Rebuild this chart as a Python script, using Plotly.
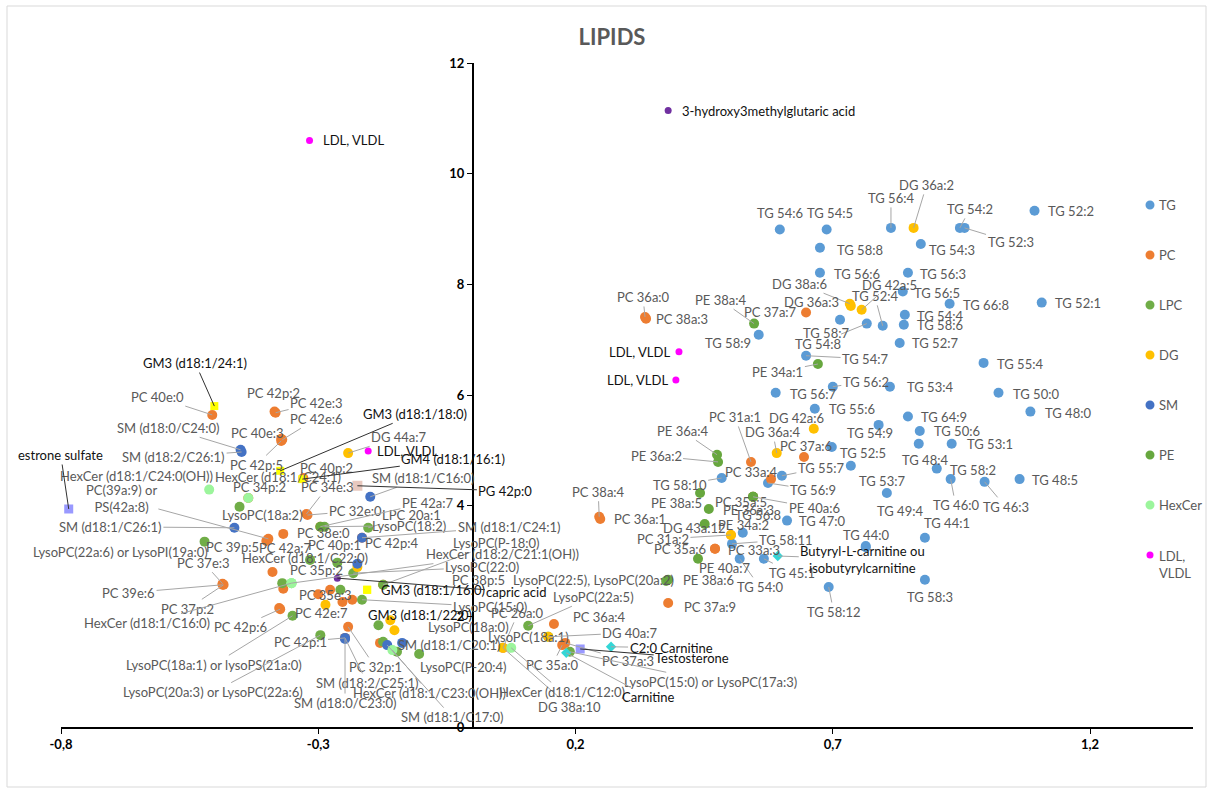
import plotly.graph_objects as go

# ------------------------------------------------------------------ data
tg_names = ["TG 54:6", "TG 54:5", "TG 56:4", "TG 54:2", "TG 52:3", "TG 52:2", "TG 58:8", "TG 54:3",
            "TG 56:6", "TG 56:3", "TG 56:5", "TG 66:8", "TG 52:1", "TG 54:4", "TG 58:6", "TG 52:4",
            "TG 54:8", "TG 58:7", "TG 52:7", "TG 54:7", "TG 58:9", "TG 56:7", "TG 56:2", "TG 53:4",
            "TG 55:6", "TG 54:9", "TG 64:9", "TG 50:6", "TG 55:4", "TG 50:0", "TG 48:0", "TG 53:1",
            "TG 48:4", "TG 58:2", "TG 46:0", "TG 46:3", "TG 48:5", "TG 52:5", "", "TG 53:7",
            "TG 49:4", "TG 44:0", "TG 44:1", "TG 58:3", "TG 58:12", "TG 47:0", "TG 58:10", "TG 55:7",
            "TG 56:9", "TG 56:8", "TG 58:11", "TG 54:0", "TG 45:1"]
tg_x = [0.597, 0.688, 0.813, 0.947, 0.956, 1.092, 0.675, 0.871,
        0.675, 0.846, 0.836, 0.927, 1.106, 0.840, 0.838, 0.797,
        0.766, 0.714, 0.830, 0.648, 0.556, 0.589, 0.700, 0.811,
        0.665, 0.789, 0.846, 0.869, 0.993, 1.022, 1.084, 0.931,
        0.867, 0.902, 0.929, 0.995, 1.063, 0.698, 0.735, 0.805,
        0.764, 0.764, 0.879, 0.879, 0.692, 0.611, 0.484, 0.601,
        0.574, 0.525, 0.504, 0.519, 0.566]
tg_y = [8.99, 8.99, 9.02, 9.02, 9.02, 9.33, 8.66, 8.73,
        8.21, 8.21, 7.87, 7.65, 7.67, 7.45, 7.27, 7.25,
        7.29, 7.36, 6.94, 6.71, 7.09, 6.04, 6.15, 6.15,
        5.75, 5.46, 5.61, 5.35, 6.58, 6.04, 5.70, 5.12,
        5.12, 4.67, 4.48, 4.43, 4.48, 5.06, 4.72, 4.23,
        3.27, 3.25, 3.42, 2.66, 2.53, 3.73, 4.50, 4.54,
        4.41, 3.51, 3.31, 3.04, 3.04]

pc_names = ["PC 36a:0", "PC 38a:3", "PC 37a:7", "PC 31a:1", "PC 37a:6", "PC 33a:4", "PC 38a:4", "PC 36a:1",
            "PC 35a:6", "PC 33a:3", "PC 35a:5", "PC 31a:2", "PC 37a:9", "PC 36a:4", "PC 37a:3", "PC 35a:0",
            "PC 26a:0", "PC 40e:0", "PC 42p:2", "PC 42e:3", "PC 40e:3", "PC 42e:6", "PC 42p:5", "PC 40p:2",
            "PC 34e:3", "PC 32e:0", "PC 38e:0", "PC 42a:7", "PC 39p:5", "PC(39a:9) or<br>PS(42a:8)", "PC 40p:1", "PC 42p:4",
            "PC 37e:3", "PC 39e:6", "PC 37p:2", "PC 35p:2", "PC 35e:3", "PC 42e:7", "PC 42p:6", "PC 42p:1",
            "PC 32p:1", "PC 38p:5", "PC 34p:2", "", "", "", "", ""]
pc_x = [0.335, 0.337, 0.648, 0.541, 0.644, 0.580, 0.246, 0.248,
        0.471, 0.471, 0.545, 0.502, 0.380, 0.158, 0.180, 0.174,
        0.059, -0.506, -0.385, -0.383, -0.372, -0.370, -0.372, -0.329,
        -0.323, -0.321, -0.368, -0.399, -0.401, -0.397, -0.296, -0.215,
        -0.486, -0.486, -0.484, -0.389, -0.368, -0.376, -0.374, -0.248,
        -0.242, -0.174, -0.436, -0.253, -0.234, -0.180, -0.277, -0.300]
pc_y = [7.41, 7.38, 7.49, 4.79, 4.88, 4.48, 3.80, 3.76,
        3.22, 3.22, 4.16, 3.47, 2.24, 1.86, 1.52, 1.48,
        1.43, 5.64, 5.70, 5.68, 5.21, 5.19, 5.17, 4.50,
        3.85, 3.83, 3.49, 3.38, 3.36, 3.40, 3.62, 3.42,
        2.59, 2.57, 2.57, 2.80, 2.50, 2.15, 2.13, 1.61,
        1.81, 2.57, 4.14, 2.26, 2.30, 1.52, 2.48, 2.40]

lpc_names = ["LysoPC(22a:6) or LysoPI(19a:0)", "LysoPC(18a:2)", "LPC 20a:1", "LysoPC(18:2)", "LysoPC(P-18:0)",
             "LysoPC(22:0)", "LysoPC(22:5), LysoPC(20a:2)", "LysoPC(22a:5)", "LysoPC(18a:1)",
             "LysoPC(15:0) or LysoPC(17a:3)", "LysoPC(P-20:4)", "LysoPC(18a:1) or lysoPS(21a:0)",
             "LysoPC(20a:3) or LysoPC(22a:6)", "LysoPC(15:0)", "LysoPC(18a:0)", "", "", "", "", "", ""]
lpc_x = [-0.521, -0.453, -0.203, -0.288, -0.174, -0.232, 0.376, 0.108, 0.147, 0.189, -0.104,
         -0.350, -0.296, -0.215, -0.183, -0.263, -0.370, -0.147, -0.174, -0.257, -0.316]
lpc_y = [3.35, 3.98, 3.60, 3.62, 2.57, 2.78, 2.64, 1.83, 1.63, 1.36, 1.32,
         2.01, 1.66, 2.30, 1.84, 2.97, 2.60, 1.36, 1.54, 2.48, 3.02]

dg_names = ["DG 36a:2", "DG 38a:6", "DG 36a:3", "DG 42a:5", "DG 42a:6", "DG 36a:4", "DG 43a:12",
            "DG 44a:7", "DG 40a:7", "DG 38a:10", "", "", "", ""]
dg_x = [0.857, 0.733, 0.735, 0.756, 0.663, 0.591, 0.502, -0.242, 0.147, 0.059, -0.224, -0.286, -0.160, -0.152]
dg_y = [9.02, 7.65, 7.61, 7.54, 5.39, 4.95, 3.47, 4.95, 1.63, 1.43, 2.89, 2.21, 1.93, 1.75]

sm_names = ["SM (d18:0/C24:0)", "SM (d18:2/C26:1)", "SM (d18:1/C26:1)", "SM (d18:1/C16:0)", "SM (d18:1/C24:1)",
            "SM (d18:2/C25:1)", "SM (d18:0/C23:0)", "SM (d18:1/C17:0)", "SM (d18:1/C20:1)", ""]
sm_x = [-0.451, -0.449, -0.463, -0.199, -0.215, -0.248, -0.248, -0.166, -0.137, -0.224]
sm_y = [5.01, 4.97, 3.60, 4.16, 3.42, 1.61, 1.59, 1.48, 1.52, 2.95]

pe_names = ["PE 38a:4", "PE 34a:1", "PE 36a:4", "PE 36a:2", "PE 38a:5", "PE 40a:6", "PE 36a:3", "PE 34a:2",
            "PE 40a:7", "PE 38a:6", "PE 42a:7", ""]
pe_x = [0.547, 0.671, 0.475, 0.477, 0.459, 0.545, 0.545, 0.451, 0.438, 0.380, -0.296, 0.442]
pe_y = [7.29, 6.56, 4.92, 4.79, 3.94, 4.16, 4.16, 3.67, 3.04, 2.66, 3.62, 4.23]

hex_names = ["HexCer (d18:1/C24:0(OH))", "HexCer (d18:1/C24:1)", "HexCer (d18:1/C22:0)", "HexCer (d18:1/C16:0)",
             "HexCer (d18:1/C12:0)", "HexCer (d18:2/C21:1(OH))", "HexCer (d18:1/C23:0(OH))"]
hex_x = [-0.512, -0.436, -0.352, -0.352, 0.075, -0.352, -0.156]
hex_y = [4.29, 4.14, 2.60, 2.60, 1.43, 2.60, 1.39]

ldl_names = ["LDL, VLDL", "LDL, VLDL", "LDL, VLDL", "LDL, VLDL"]
ldl_x = [-0.317, 0.401, 0.395, -0.203]
ldl_y = [10.60, 6.78, 6.27, 4.99]

gm_names = ["GM3 (d18:1/24:1)", "GM3 (d18:1/18:0)", "GM4 (d18:1/16:1)", "GM3 (d18:1/16:0)", "GM3 (d18:1/22:0)"]
gm_x = [-0.502, -0.374, -0.331, -0.205, -0.205]
gm_y = [5.80, 4.63, 4.48, 2.48, 2.48]

acid_names = ["3-hydroxy3methylglutaric acid", "capric acid"]
acid_x = [0.380, -0.263]
acid_y = [11.14, 2.69]

ster_names = ["estrone sulfate", "Testosterone"]
ster_x = [-0.785, 0.209]
ster_y = [3.94, 1.41]

pg_names = ["PG 42p:0"]
pg_x = [-0.224]
pg_y = [4.36]

carn_names = ["Carnitine", "C2:0 Carnitine", "Butyryl-L-carnitine ou<br>isobutyrylcarnitine"]
carn_x = [0.182, 0.269, 0.593]
carn_y = [1.34, 1.45, 3.09]

x_ticks = [-0.8, -0.3, 0.2, 0.7, 1.2]
x_ticktext = ["-0,8", "-0,3", "0,2", "0,7", "1,2"]
y_ticks = [0, 2, 4, 6, 8, 10, 12]

legend_labels = ["TG", "PC", "LPC", "DG", "SM", "PE", "HexCer", "LDL,<br>VLDL"]

# ------------------------------------------------------------------ label placement (pixel offsets dx, dy, leader line)
tg_lab = [(0, -17, 0), (3, -17, 0), (0, -30, 1), (10, -19, 1), (46, 14, 1), (36, 0, 0), (40, 2, 0), (31, 6, 0),
          (37, 1, 0), (35, 1, 0), (34, 1, 0), (36, 1, 0), (36, 0, 0), (35, 1, 0), (36, 0, 0), (-8, -30, 1),
          (-49, 20, 1), (-14, 13, 0), (35, 0, 0), (59, 3, 1), (-31, 8, 0), (37, 1, 0), (33, -5, 1), (40, 0, 0),
          (37, 0, 0), (-9, 8, 0), (36, 0, 0), (37, 0, 0), (36, 1, 0), (37, 1, 0), (38, 1, 0), (38, 0, 0),
          (6, 16, 0), (36, 1, 0), (5, 26, 1), (21, 25, 1), (35, 1, 0), (31, 6, 0), None, (-5, -12, 0),
          (34, -35, 0), (0, -12, 0), (22, -15, 0), (5, 17, 0), (5, 25, 1), (35, 0, 0), (-42, 7, 1), (39, -8, 1),
          (45, 7, 1), (15, -18, 0), (54, -4, 1), (20, 28, 1), (28, 14, 1)]
pc_lab = [(-2, -20, 1), (36, 0, 0), (-36, -1, 0), (-16, -45, 1), (2, -11, 0), (-20, -7, 0), (-1, -25, 1), (40, 0, 0),
          (-35, 0, 0), (39, 1, 0), (-12, 5, 0), (-68, 4, 1), (42, 4, 0), (46, -7, 0), (63, 18, 1), (-10, 20, 1),
          (15, -35, 1), (-55, -18, 1), (-1, -19, 0), (41, -10, 1), (-24, -6, 0), (34, -21, 1), (-25, 24, 1), (23, -10, 0),
          (21, -27, 1), (48, -4, 1), (40, -1, 0), (18, 8, 0), (-34, 6, 0), (-147, -40, 1), (14, 18, 0), (29, 5, 0),
          (-19, -21, 1), (-94, 8, 1), (-36, 24, 1), (44, -2, 0), (42, 6, 0), (42, 5, 0), (-40, 18, 1), (-45, 4, 1),
          (27, 40, 1), (95, -5, 0), (11, -11, 0), None, None, None, None, None]
lpc_lab = [(-84, 10, 0), (23, 8, 0), (43, -13, 1), (85, -1, 1), (113, -42, 1), (129, -6, 1), (-73, -1, 0),
           (65, -29, 1), (-20, 0, 0), (141, 30, 1), (44, 13, 0), (-79, 49, 1), (-107, 57, 1), (128, 7, 1),
           (90, 2, 0), None, None, None, None, None, None]
dg_lab = [(13, -43, 1), (-50, -20, 1), (-39, -4, 0), (28, -25, 1), (-17, -11, 0), (-4, -21, 1), (-36, -7, 0),
          (51, -16, 1), (82, -4, 1), (67, 59, 1), None, None, None, None]
sm_lab = [(-72, -22, 1), (-68, 5, 1), (-124, -1, 1), (53, -19, 1), (147, -11, 1), (22, 45, 1), (0, 64, 1),
          (65, 72, 1), (47, 2, 0), None]
pe_lab = [(-34, -24, 1), (-40, 8, 1), (-35, -24, 1), (-62, -6, 1), (-32, -6, 0), (61, 11, 1), (-5, 13, 0),
          (39, 1, 0), (26, 9, 0), (40, 0, 0), (107, -24, 1), None]
hex_lab = [(-73, -14, 0), (30, -21, 0), (13, -25, 0), (-145, 40, 1), (51, 44, 1), (211, -29, 1), (37, 43, 1)]
ldl_lab = [(44, 0, 0), (-39, 0, 0), (-38, 0, 0), (39, 0, 0)]
gm_lab = [(-19, -43, 1), (135, -57, 1), (151, -20, 1), (66, 0, 0), (53, 25, 0)]
acid_lab = [(100, 0, 0), (179, 14, 1)]
ster_lab = [(-8, -54, 1), (112, 9, 1)]
pg_lab = [(148, 5, 1)]
carn_lab = [(82, 44, 1), (60, 1, 1), (85, 3, 1)]

GRAY_TXT = "#595959"
BLACK_TXT = "#111111"
GRAY_LINE = "#A6A6A6"
BLACK_LINE = "#303030"

groups = [
    dict(names=tg_names, x=tg_x, y=tg_y, lab=tg_lab, color="#5B9BD5", symbol="circle", size=10, tc=GRAY_TXT, lc=GRAY_LINE),
    dict(names=pc_names, x=pc_x, y=pc_y, lab=pc_lab, color="#ED7D31", symbol="circle", size=10, tc=GRAY_TXT, lc=GRAY_LINE),
    dict(names=lpc_names, x=lpc_x, y=lpc_y, lab=lpc_lab, color="#70AD47", symbol="circle", size=10, tc=GRAY_TXT, lc=GRAY_LINE),
    dict(names=dg_names, x=dg_x, y=dg_y, lab=dg_lab, color="#FFC000", symbol="circle", size=10, tc=GRAY_TXT, lc=GRAY_LINE),
    dict(names=sm_names, x=sm_x, y=sm_y, lab=sm_lab, color="#4472C4", symbol="circle", size=10, tc=GRAY_TXT, lc=GRAY_LINE),
    dict(names=pe_names, x=pe_x, y=pe_y, lab=pe_lab, color="#67A73E", symbol="circle", size=10, tc=GRAY_TXT, lc=GRAY_LINE),
    dict(names=hex_names, x=hex_x, y=hex_y, lab=hex_lab, color="#9CF59C", symbol="circle", size=10, tc=GRAY_TXT, lc=GRAY_LINE),
    dict(names=ldl_names, x=ldl_x, y=ldl_y, lab=ldl_lab, color="#FF00FF", symbol="circle", size=7, tc=BLACK_TXT, lc=BLACK_LINE),
    dict(names=gm_names, x=gm_x, y=gm_y, lab=gm_lab, color="#FFFF00", symbol="square", size=8, tc=BLACK_TXT, lc=BLACK_LINE),
    dict(names=acid_names, x=acid_x, y=acid_y, lab=acid_lab, color="#7030A0", symbol="circle", size=7, tc=BLACK_TXT, lc=BLACK_LINE),
    dict(names=ster_names, x=ster_x, y=ster_y, lab=ster_lab, color="#9999FF", symbol="square", size=9, tc=BLACK_TXT, lc=BLACK_LINE),
    dict(names=pg_names, x=pg_x, y=pg_y, lab=pg_lab, color="#E8C8BE", symbol="square", size=10, tc=BLACK_TXT, lc=BLACK_LINE),
    dict(names=carn_names, x=carn_x, y=carn_y, lab=carn_lab, color="#33D6D6", symbol="diamond", size=8, tc=BLACK_TXT, lc=GRAY_LINE),
]
legend_colors = ["#5B9BD5", "#ED7D31", "#70AD47", "#FFC000", "#4472C4", "#67A73E", "#9CF59C", "#FF00FF"]
legend_sizes = [9, 9, 9, 9, 9, 9, 9, 7]

# ------------------------------------------------------------------ figure
W, H = 1213, 794
ML, MR, MT, MB = 61, 20, 63, 67
PW, PH = W - ML - MR, H - MT - MB
XR = [-0.8, 1.4]
YR = [0, 12]
FONT = "Lato, 'Open Sans', sans-serif"


def px2paper_x(px):
    return (px - ML) / PW


def px2paper_y(py):
    return (H - MB - py) / PH


fig = go.Figure()
annotations = []
for g in groups:
    fig.add_trace(go.Scatter(
        x=g["x"], y=g["y"], mode="markers",
        marker=dict(color=g["color"], size=g["size"], symbol=g["symbol"], line=dict(width=0)),
        text=[n.replace("<br>", " ") for n in g["names"]], hoverinfo="text", showlegend=False))
    for n, xv, yv, lab in zip(g["names"], g["x"], g["y"], g["lab"]):
        if not n or lab is None:
            continue
        dx, dy, lead = lab
        annotations.append(dict(
            x=xv, y=yv, xref="x", yref="y", text=n, showarrow=True, ax=dx, ay=dy,
            arrowhead=0, arrowwidth=1, standoff=0, startstandoff=0,
            arrowcolor=g["lc"] if lead else "rgba(0,0,0,0)",
            font=dict(family=FONT, size=13, color=g["tc"])))

# manual legend (Excel-like spacing)
for i, (lab, col, sz) in enumerate(zip(legend_labels, legend_colors, legend_sizes)):
    py = 205 + 50 * i
    fig.add_shape(type="circle", xref="paper", yref="paper", xsizemode="pixel", ysizemode="pixel",
                  xanchor=px2paper_x(1150), yanchor=px2paper_y(py),
                  x0=-sz / 2, x1=sz / 2, y0=-sz / 2, y1=sz / 2, fillcolor=col, line=dict(width=0))
    annotations.append(dict(
        xref="paper", yref="paper", x=px2paper_x(1157), y=px2paper_y(py - 9 if "<br>" in lab else py),
        text=lab, showarrow=False, xanchor="left", yanchor="top" if "<br>" in lab else "middle", align="left",
        font=dict(family=FONT, size=13, color=GRAY_TXT)))

# chart-area border
fig.add_shape(type="rect", xref="paper", yref="paper",
              x0=px2paper_x(7), x1=px2paper_x(1206), y0=px2paper_y(787), y1=px2paper_y(6),
              line=dict(color="#D9D9D9", width=1), fillcolor="rgba(0,0,0,0)", layer="below")

fig.update_layout(
    width=W, height=H,
    margin=dict(l=ML, r=MR, t=MT, b=MB),
    paper_bgcolor="white", plot_bgcolor="white",
    title=dict(text="<b>LIPIDS</b>", x=612 / W, xanchor="center", y=1 - 37 / H, yanchor="middle",
               font=dict(family=FONT, size=22, color=GRAY_TXT)),
    xaxis=dict(range=XR, tickvals=x_ticks, ticktext=["<b>%s</b>" % t for t in x_ticktext],
               showgrid=False, zeroline=False, showline=True, linecolor="black", linewidth=1.5,
               ticks="outside", ticklen=5, tickcolor="black", tickwidth=1,
               tickfont=dict(family=FONT, size=13, color="black")),
    yaxis=dict(range=YR, tickvals=y_ticks, ticktext=["<b>%d</b>" % t for t in y_ticks],
               anchor="free", position=(0 - XR[0]) / (XR[1] - XR[0]),
               showgrid=False, zeroline=False, showline=True, linecolor="black", linewidth=1.5,
               ticks="outside", ticklen=5, tickcolor="black", tickwidth=1,
               tickfont=dict(family=FONT, size=13, color="black")),
    annotations=annotations,
    showlegend=False,
)

fig.write_html("out.html", config={"displayModeBar": False},
               post_script="document.body.style.margin='0px';document.body.style.overflow='hidden';")
